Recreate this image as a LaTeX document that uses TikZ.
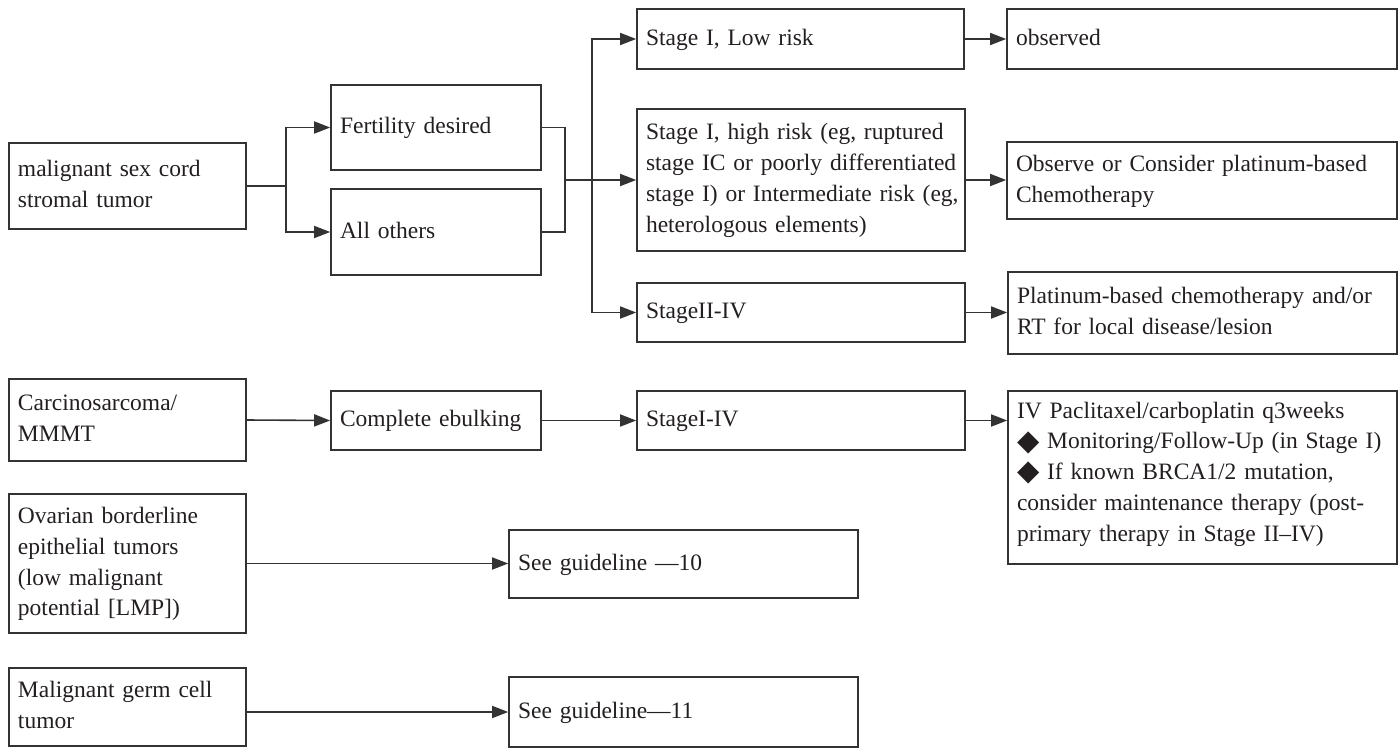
\documentclass[tikz,border=0pt]{standalone}
\usepackage{fontspec}
\setmainfont{Liberation Serif}
\newfontfamily\symfont{DejaVu Sans}
\usetikzlibrary{arrows.meta}
\definecolor{ink}{HTML}{231F20}
\definecolor{rule}{HTML}{333333}
% solid diamond bullet
\newcommand\dmd{\smash{{\symfont\fontsize{14.5}{14.5}\selectfont\raisebox{-0.6pt}{◆}}}}
% box given by its corners in pixel units: name, x1, y1, x2, y2, text
\newcommand\flowbox[6]{%
  \pgfmathsetmacro\fbw{(#4-#2)*0.5}%
  \pgfmathsetmacro\fbh{(#5-#3)*0.5}%
  \pgfmathsetmacro\fbt{(#4-#2)*0.5-9}%
  \node[box, minimum width=\fbw pt, minimum height=\fbh pt, text width=\fbt pt]
    (#1) at ({(#2+#4)/2},{(#3+#5)/2}) {\begin{tabular}{@{}l@{}}#6\end{tabular}};}
\begin{document}
\begin{tikzpicture}[x=0.5pt, y=-0.5pt,
  box/.style={draw=rule, line width=0.8pt, rectangle, inner xsep=4.5pt, inner ysep=0pt,
    align=left, text=ink, font=\fontsize{11.75}{15.4}\selectfont},
  link/.style={draw=rule, line width=0.8pt},
  arr/.style={link, -{Triangle[length=8pt, width=6pt]}}]
\useasboundingbox (0,0) rectangle (1399,750);

% first row: sex cord stromal tumors
\flowbox{sexcord}{9}{143}{246}{229}{malignant sex cord\\stromal tumor}
\flowbox{fert}{331}{85}{541}{170}{Fertility desired}
\flowbox{others}{331}{189}{541}{275}{All others}
\flowbox{low}{637}{9}{964}{69}{Stage I, Low risk}
\flowbox{high}{637}{109}{965}{251}{Stage I, high risk (eg, ruptured\\stage IC or poorly differentiated\\stage I) or Intermediate risk (eg,\\heterologous elements)}
\flowbox{late}{637}{283}{965}{342}{StageII-IV}
\flowbox{obs}{1007}{9}{1397}{69}{observed}
\flowbox{obsc}{1007}{142}{1397}{219}{Observe or Consider platinum-based\\Chemotherapy}
\flowbox{plat}{1008}{272}{1397}{354}{Platinum-based chemotherapy and/or\\RT for local disease/lesion}

% second row: carcinosarcoma
\flowbox{carc}{9}{379}{246}{461}{Carcinosarcoma/\\MMMT}
\flowbox{debulk}{331}{391}{541}{450}{Complete ebulking}
\flowbox{allst}{637}{391}{965}{450}{StageI-IV}
\flowbox{iv}{1008}{391}{1397}{564}{IV Paclitaxel/carboplatin q3weeks\\\dmd\ Monitoring/Follow-Up (in Stage I)\\\dmd\ If known BRCA1/2 mutation,\\consider maintenance therapy (post-\\primary therapy in Stage II–IV)\\[4pt]}

% third and fourth rows
\flowbox{lmp}{9}{494}{246}{633}{Ovarian borderline\\epithelial tumors\\(low malignant\\potential [LMP])}
\flowbox{gl10}{509}{530}{858}{598}{See guideline —10}
\flowbox{germ}{9}{668}{246}{746}{Malignant germ cell\\tumor}
\flowbox{gl11}{509}{677}{858}{747}{See guideline—11}

% branch points
\coordinate (sp1) at (286,0);
\coordinate (br) at (565,0);
\coordinate (sp2) at (592,0);

% connectors of the first row
\draw[arr] (sexcord.east) -- (sexcord.east -| sp1) |- (fert.west);
\draw[arr] (sexcord.east -| sp1) |- (others.west);
\draw[link] (fert.east) -| (br |- high.west) |- (others.east);
\draw[arr] (br |- high.west) -- (high.west);
\draw[arr] (sp2 |- high.west) |- (low.west);
\draw[arr] (sp2 |- high.west) |- (late.west);
\draw[arr] (low.east) -- (obs.west);
\draw[arr] (high.east) -- (high.east -| obsc.west);
\draw[arr] (late.east) -- (late.east -| plat.west);

% connectors of the other rows
\draw[arr] (carc.east) -- (debulk.west);
\draw[arr] (debulk.east) -- (allst.west);
\draw[arr] (allst.east) -- (allst.east -| iv.west);
\draw[arr] (lmp.east) -- (lmp.east -| gl10.west);
\draw[arr] (germ.east |- gl11.west) -- (gl11.west);
\end{tikzpicture}
\end{document}
